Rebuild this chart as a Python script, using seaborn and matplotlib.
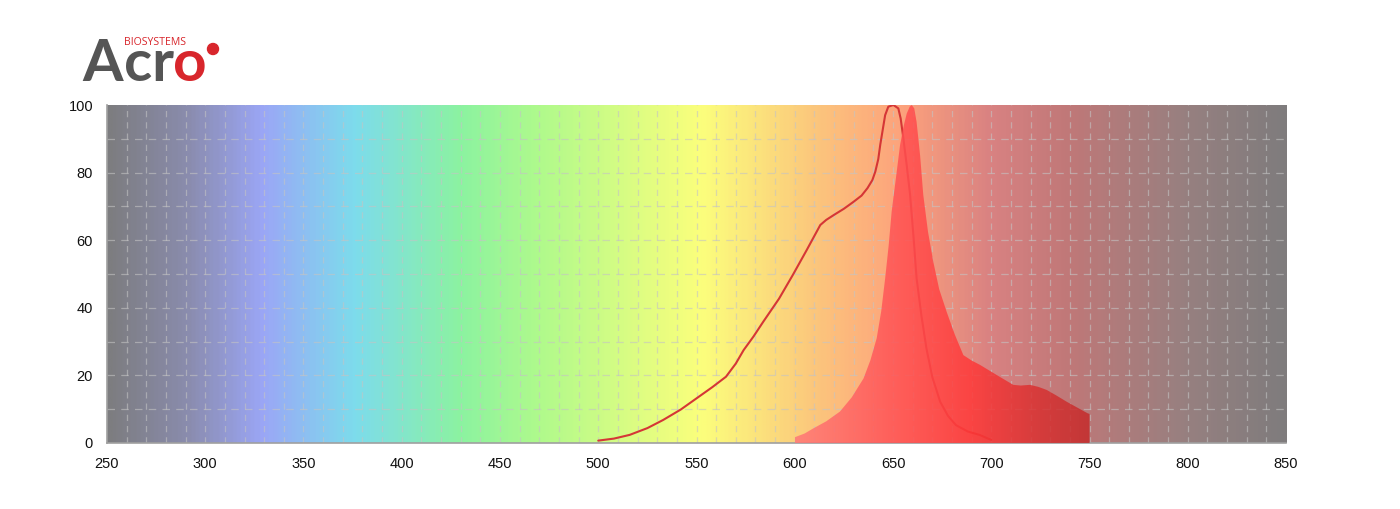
import matplotlib
matplotlib.use('Agg')
import matplotlib.pyplot as plt
from matplotlib.colors import LinearSegmentedColormap
from matplotlib.patches import Ellipse
import numpy as np
import pandas as pd
import seaborn as sns

# excitation spectrum (line)
ex_nm = [500, 508, 516, 525, 533, 542, 550, 558, 565, 570, 574, 579, 584, 592, 599, 606, 613,
         616, 620, 625, 630, 634, 637, 639.5, 641, 642.5, 643.5, 645, 646, 647.6, 650.2, 652.7,
         653.9, 655.3, 657, 658.7, 660.5, 662, 664.5, 667, 670, 674, 678, 682, 688, 694, 700]
ex_val = [0.7, 1.3, 2.4, 4.4, 6.8, 9.9, 13.2, 16.5, 19.6, 23.5, 27.5, 31.5, 35.9, 42.7, 49.7, 57.0, 64.5,
          66.0, 67.5, 69.3, 71.4, 73.2, 75.4, 77.8, 80.3, 84.0, 88.2, 93.5, 97.0, 99.5, 100, 99.0,
          96.0, 90.0, 82.0, 73.4, 60.5, 48.7, 37.5, 28.0, 19.5, 12.2, 8.0, 5.3, 3.4, 2.4, 0.9]

# emission spectrum (filled)
em_nm = [600, 605, 609.4, 616, 623, 629, 635, 638.5, 641.7, 644, 646, 647.8, 649.3, 651.5, 653.6,
         655.5, 657, 658.5, 659.5, 660.8, 662, 663.8, 665.4, 667.8, 670.5, 673.5, 677.3, 681.5, 685.8,
         690, 694.3, 702.8, 711.2, 715, 719.7, 724, 728.2, 733, 738.4, 744, 749, 750]
em_val = [1.7, 2.8, 4.3, 6.4, 9.3, 13.5, 19.1, 24.5, 31.0, 39.0, 48.7, 58.5, 68.4, 78.5, 88.2,
          94.0, 97.5, 99.5, 100, 99.0, 95.0, 85.0, 73.4, 62.5, 53.6, 45.5, 38.8, 32.0, 26.0,
          24.4, 23.1, 20.1, 17.2, 17.0, 17.2, 16.6, 15.7, 14.1, 12.2, 10.4, 8.8, 8.6]

x_ticks = [250, 300, 350, 400, 450, 500, 550, 600, 650, 700, 750, 800, 850]
y_ticks = [0, 20, 40, 60, 80, 100]

# background spectrum colour stops
bg_stops = [(250, '#7d7d80'), (290, '#8a8cae'), (328, '#9ba6f6'), (375, '#7ddcec'),
            (430, '#8cf3a0'), (470, '#b0fa8c'), (552, '#fbff7c'), (615, '#fcc27c'),
            (655, '#fda27c'), (700, '#d98282'), (740, '#c07878'), (800, '#978080'),
            (850, '#7f7c7d')]
em_stops = [(600, '#ff7878'), (640, '#ff5a5c'), (690, '#ff3838'), (720, '#dc3232'), (750, '#c42c2c')]

sns.set_style('white')
plt.rcParams['font.family'] = ['Liberation Sans', 'DejaVu Sans']

def make_cmap(stops, lo, hi):
    return LinearSegmentedColormap.from_list(
        'c', [((v - lo) / (hi - lo), c) for v, c in stops])

fig = plt.figure(figsize=(14, 5.09), dpi=100)
ax = fig.add_axes([0.0764, 0.1297, 0.8422, 0.664])

# background gradient
grad = np.linspace(0, 1, 600).reshape(1, -1)
ax.imshow(grad, extent=[250, 850, 0, 100], aspect='auto', cmap=make_cmap(bg_stops, 250, 850),
          zorder=0, interpolation='bilinear')

# dashed grid
for gx in range(260, 850, 10):
    ax.axvline(gx, color='#c4c4c4', lw=0.9, ls=(0, (5, 4)), alpha=0.6, zorder=1)
for gy in range(10, 100, 10):
    ax.axhline(gy, color='#c4c4c4', lw=0.9, ls=(0, (6, 5)), alpha=0.6, zorder=1)

ex = pd.DataFrame({'nm': ex_nm, 'val': ex_val})
sns.lineplot(data=ex, x='nm', y='val', ax=ax, color='#d53636', lw=1.5, zorder=3, sort=False)

# emission gradient fill
poly = ax.fill_between(em_nm, 0, em_val, color='none', lw=0, zorder=4)
img = ax.imshow(grad, extent=[600, 750, 0, 100], aspect='auto', cmap=make_cmap(em_stops, 600, 750),
                zorder=4, alpha=0.85, interpolation='bilinear')
img.set_clip_path(poly.get_paths()[0], transform=ax.transData)

ax.set_xlim(250, 850)
ax.set_ylim(0, 100)
ax.set_xticks(x_ticks)
ax.set_yticks(y_ticks)
ax.set_xlabel('')
ax.set_ylabel('')
for s in ['top', 'right']:
    ax.spines[s].set_visible(False)
for s in ['left', 'bottom']:
    ax.spines[s].set_color('#a0a0a0')
    ax.spines[s].set_linewidth(1.2)
ax.tick_params(axis='both', direction='out', length=6, width=1.2, color='#a0a0a0',
               labelsize=10.5, labelcolor='#111111', pad=4)

# logo
logo_font = ['Lato', 'DejaVu Sans']
base_y = 1 - 81 / 509
fig.text(82 / 1400, base_y, 'A', fontsize=42, color='#555555', fontweight='bold',
         family=logo_font, ha='left', va='baseline')
fig.text(124 / 1400, base_y, 'cr', fontsize=42, color='#555555', fontweight='bold',
         family=logo_font, ha='left', va='baseline')
fig.text(173 / 1400, base_y, 'o', fontsize=42, color='#d8262c', fontweight='bold',
         family=logo_font, ha='left', va='baseline')
fig.text(124 / 1400, 1 - 45 / 509, 'BIOSYSTEMS', fontsize=7.6, color='#d8262c',
         family=['Open Sans', 'DejaVu Sans'], ha='left', va='baseline')
fig.patches.append(Ellipse((213 / 1400, 1 - 49 / 509), 11 / 1400, 11 / 509,
                           transform=fig.transFigure, color='#d8262c', zorder=5))

fig.savefig('out.png', dpi=100)
